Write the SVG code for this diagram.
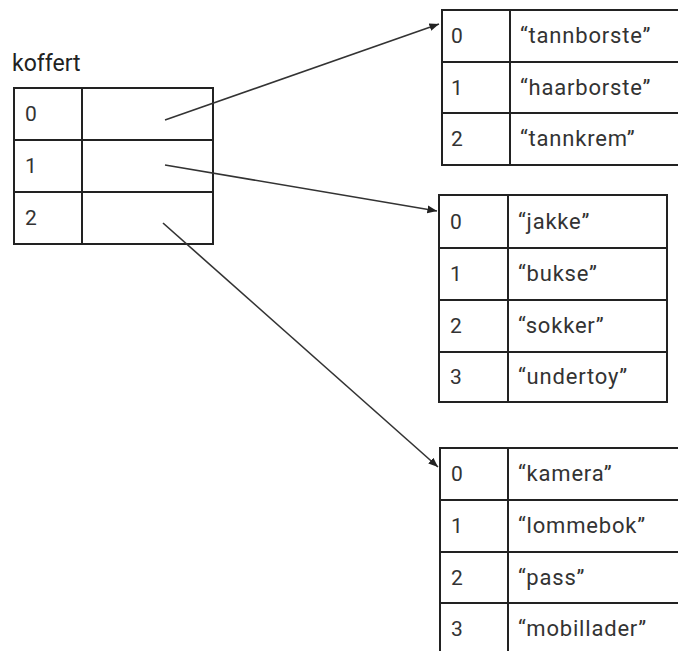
<svg xmlns="http://www.w3.org/2000/svg" width="678" height="651" viewBox="0 0 678 651">
<defs>
<style>
.cell{fill:#fff;stroke:#222;stroke-width:2}
.ln{stroke:#222;stroke-width:2}
.t{font-family:Roboto,"Liberation Sans",sans-serif;font-size:21px;fill:#333}
.s{font-family:Roboto,"Liberation Sans",sans-serif;font-size:22px;letter-spacing:0.8px;fill:#333}
.lbl{font-family:Roboto,"Liberation Sans",sans-serif;font-size:23px;fill:#222}
.arr{stroke:#333;stroke-width:1.6;fill:none;marker-end:url(#ah)}
</style>
<marker id="ah" viewBox="0 0 10 10" refX="10" refY="5" markerWidth="6" markerHeight="6" markerUnits="strokeWidth" orient="auto">
<path d="M0,1 L10,5 L0,9 z" fill="#222"/>
</marker>
</defs>
<rect width="678" height="651" fill="#fff"/>

<g id="koffert">
<text class="lbl" x="12" y="71">koffert</text>
<rect class="cell" x="14" y="88" width="199" height="156"/>
<line class="ln" x1="82" y1="88" x2="82" y2="244"/>
<line class="ln" x1="14" y1="140" x2="213" y2="140"/>
<line class="ln" x1="14" y1="192" x2="213" y2="192"/>
<text class="t" x="25" y="121">0</text>
<text class="t" x="25" y="173">1</text>
<text class="t" x="25" y="225">2</text>
</g>

<g id="liste0">
<rect class="cell" x="442" y="10" width="250" height="155"/>
<line class="ln" x1="510" y1="10" x2="510" y2="165"/>
<line class="ln" x1="442" y1="62" x2="692" y2="62"/>
<line class="ln" x1="442" y1="113" x2="692" y2="113"/>
<text class="t" x="451" y="43">0</text>
<text class="s" x="520" y="43">“tannborste”</text>
<text class="t" x="451" y="95">1</text>
<text class="s" x="520" y="95">“haarborste”</text>
<text class="t" x="451" y="146">2</text>
<text class="s" x="520" y="146">“tannkrem”</text>
</g>

<g id="liste1">
<rect class="cell" x="439" y="195" width="228" height="207"/>
<line class="ln" x1="508" y1="195" x2="508" y2="402"/>
<line class="ln" x1="439" y1="248" x2="667" y2="248"/>
<line class="ln" x1="439" y1="300" x2="667" y2="300"/>
<line class="ln" x1="439" y1="352" x2="667" y2="352"/>
<text class="t" x="450" y="229">0</text>
<text class="s" x="518" y="229">“jakke”</text>
<text class="t" x="450" y="281">1</text>
<text class="s" x="518" y="281">“bukse”</text>
<text class="t" x="450" y="333">2</text>
<text class="s" x="518" y="333">“sokker”</text>
<text class="t" x="450" y="384">3</text>
<text class="s" x="518" y="384">“undertoy”</text>
</g>

<g id="liste2">
<rect class="cell" x="440" y="448" width="252" height="220"/>
<line class="ln" x1="508" y1="448" x2="508" y2="668"/>
<line class="ln" x1="440" y1="500" x2="692" y2="500"/>
<line class="ln" x1="440" y1="552" x2="692" y2="552"/>
<line class="ln" x1="440" y1="603" x2="692" y2="603"/>
<text class="t" x="451" y="481">0</text>
<text class="s" x="518" y="481">“kamera”</text>
<text class="t" x="451" y="533">1</text>
<text class="s" x="518" y="533">“lommebok”</text>
<text class="t" x="451" y="585">2</text>
<text class="s" x="518" y="585">“pass”</text>
<text class="t" x="451" y="636">3</text>
<text class="s" x="518" y="636">“mobillader”</text>
</g>

<g id="connectors">
<line class="arr" x1="165" y1="120" x2="439" y2="24"/>
<line class="arr" x1="165" y1="165" x2="437" y2="211"/>
<line class="arr" x1="163" y1="223" x2="438" y2="467"/>
</g>
</svg>
